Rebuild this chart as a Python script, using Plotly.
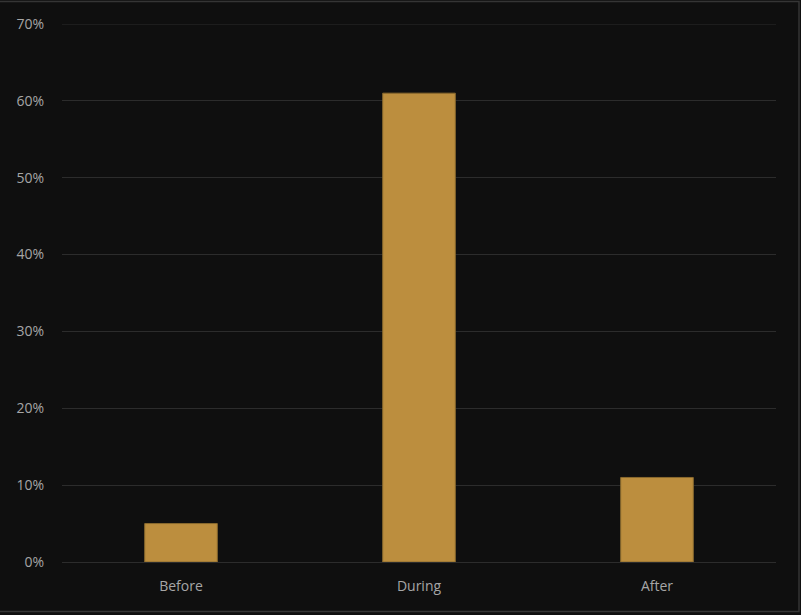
import plotly.graph_objects as go

categories = ["Before", "During", "After"]
shares = [0.05, 0.61, 0.11]
tick_vals = [0, 0.1, 0.2, 0.3, 0.4, 0.5, 0.6, 0.7]
tick_text = ["0%", "10%", "20%", "30%", "40%", "50%", "60%", "70%"]

W, H = 801, 615
ML, MR, MT, MB = 62, 25, 24, 53
PW, PH = W - ML - MR, H - MT - MB
GRID = "#2c2c2c"

fig = go.Figure(
    go.Bar(
        x=categories,
        y=shares,
        width=0.305,
        marker=dict(color="#BC8E3E", line=dict(color="#8a6a2e", width=1)),
        hoverinfo="x+y",
    )
)

def px_to_paper_x(px):
    return (px - ML) / PW

def px_to_paper_y(py):
    return 1 - (py - MT) / PH

# thin outer frame around the chart
fig.add_shape(
    type="rect", xref="paper", yref="paper",
    x0=px_to_paper_x(-2), x1=px_to_paper_x(799),
    y0=px_to_paper_y(611.5), y1=px_to_paper_y(1.5),
    line=dict(color="#353535", width=1.5), fillcolor="rgba(0,0,0,0)",
    layer="below",
)

# gridline at the top of the value range
fig.add_shape(
    type="line", xref="paper", yref="y",
    x0=0, x1=1, y0=tick_vals[-1], y1=tick_vals[-1],
    line=dict(color=GRID, width=1), layer="below",
)

fig.update_layout(
    width=W, height=H,
    margin=dict(l=ML, r=MR, t=MT, b=MB),
    paper_bgcolor="#0f0f0f",
    plot_bgcolor="#0f0f0f",
    font=dict(family="Open Sans, sans-serif", size=13, color="#a6a6a6"),
    showlegend=False,
    bargap=0.7,
    xaxis=dict(
        showgrid=False, showline=False, zeroline=False, ticks="",
        tickfont=dict(size=14, color="#a6a6a6"),
        ticklabelstandoff=14,
    ),
    yaxis=dict(
        range=[0, 0.7],
        tickvals=tick_vals, ticktext=tick_text,
        showgrid=True, gridcolor=GRID, gridwidth=1,
        zeroline=True, zerolinecolor=GRID, zerolinewidth=1,
        showline=False, ticks="",
        tickfont=dict(size=14, color="#a6a6a6"),
        ticklabelstandoff=17,
    ),
)

fig.write_html("out.html")
